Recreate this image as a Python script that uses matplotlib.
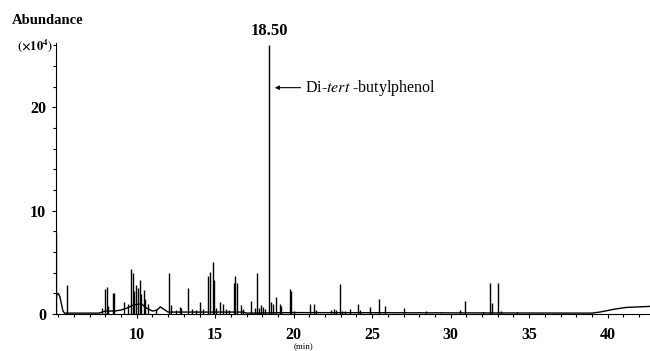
import matplotlib.pyplot as plt
from matplotlib.ticker import MultipleLocator

plt.rcParams["font.family"] = ["Liberation Serif", "DejaVu Serif"]
plt.rcParams["mathtext.fontset"] = "stix"

# baseline of the trace (time in min, abundance x10^4)
base_t = [4.85, 4.9, 5.0, 5.1, 5.2, 5.3, 5.4, 7.6, 8.0, 8.6, 9.0, 9.4, 9.8, 10.3, 10.6, 11.0,
          11.3, 11.5, 11.7, 12.0, 13.0, 16.8, 17.0, 20.0, 39.0, 39.5, 40.0, 40.5, 41.2, 42.7]
base_y = [1.0, 1.9, 2.0, 1.7, 1.0, 0.3, 0.1, 0.1, 0.3, 0.3, 0.4, 0.6, 0.9, 1.0, 0.6, 0.3,
          0.4, 0.7, 0.5, 0.2, 0.2, 0.2, 0.1, 0.15, 0.1, 0.2, 0.35, 0.5, 0.65, 0.75]

# peaks: retention time and height
peak_t = [4.88, 5.56, 7.8, 7.96, 8.09, 8.2, 8.47, 8.55, 9.17, 9.45, 9.66, 9.77, 9.85, 9.95,
          10.05, 10.19, 10.3, 10.45, 10.55, 10.72, 11.25, 12.06, 12.2, 12.5, 12.74, 12.85,
          13.27, 13.5, 13.75, 14.0, 14.2, 14.54, 14.69, 14.84, 14.92, 15.05, 15.29, 15.5,
          15.7, 15.9, 16.2, 16.29, 16.37, 16.67, 16.8, 17.3, 17.52, 17.66, 17.8, 17.9,
          18.05, 18.15, 18.45, 18.55, 18.7, 18.9, 19.1, 19.2, 19.75, 19.82, 20.0, 21.06,
          21.27, 21.4, 22.4, 22.55, 22.7, 22.93, 23.1, 23.3, 23.57, 24.1, 24.2, 24.88,
          25.43, 25.8, 27.02, 28.45, 29.4, 30.57, 30.94, 32.06, 32.48, 32.65, 33.0, 33.2,
          34.2, 35.0]
peak_h = [7.8, 2.8, 0.6, 2.4, 2.6, 0.8, 2.0, 2.0, 1.2, 1.0, 4.4, 4.0, 2.2, 2.8,
          2.5, 3.3, 1.9, 2.3, 1.5, 1.0, 0.5, 4.0, 0.9, 0.4, 0.7, 0.6,
          2.5, 0.5, 0.4, 1.2, 0.5, 3.7, 4.1, 5.0, 3.3, 0.6, 1.2, 1.0,
          0.5, 0.4, 3.0, 3.7, 3.0, 0.9, 0.5, 1.25, 0.6, 4.0, 0.6, 0.9,
          0.7, 0.5, 26.0, 1.2, 1.0, 1.7, 1.0, 0.8, 2.4, 2.2, 0.3, 1.0,
          1.0, 0.4, 0.4, 0.5, 0.4, 2.9, 0.3, 0.3, 0.5, 1.0, 0.4, 0.7,
          1.5, 0.8, 0.6, 0.3, 0.15, 0.4, 1.3, 0.2, 3.0, 1.1, 3.0, 0.3,
          0.2, 0.15]

fig = plt.figure(figsize=(6.5, 3.51), dpi=100)
ax = fig.add_axes([0.086, 0.105, 0.914, 0.772])

ax.plot(base_t, base_y, color="black", lw=1.0)
ax.vlines(peak_t, 0, peak_h, color="black", lw=1.0)

ax.set_xlim(4.85, 42.7)
ax.set_ylim(0, 26.2)
ax.spines["top"].set_visible(False)
ax.spines["right"].set_visible(False)
ax.xaxis.set_major_locator(MultipleLocator(5))
ax.xaxis.set_minor_locator(MultipleLocator(1))
ax.yaxis.set_major_locator(MultipleLocator(10))
ax.yaxis.set_minor_locator(MultipleLocator(2))
ax.set_xticks([10, 15, 20, 25, 30, 35, 40])
ax.tick_params(axis="both", which="major", length=3, width=0.8, labelsize=11.5)
ax.tick_params(axis="both", which="minor", length=2, width=0.8)
ax.tick_params(axis="x", pad=6)
ax.tick_params(axis="y", pad=4)
for lab in ax.get_xticklabels() + ax.get_yticklabels():
    lab.set_fontweight("bold")

ax.text(18.45, 26.6, "18.50", ha="center", va="bottom", fontsize=12, fontweight="bold", clip_on=False)
ax.annotate(r"Di-$\mathit{tert}$ -butylphenol", xy=(18.8, 21.9), xytext=(20.7, 21.9),
            ha="left", va="center", fontsize=11.5,
            arrowprops=dict(arrowstyle="-|>", lw=0.8, color="black", mutation_scale=6, shrinkA=1, shrinkB=0))

fig.text(12 / 650, 1 - 20 / 351, "Abundance", ha="left", va="center", fontsize=10.5, fontweight="bold")
fig.text(53 / 650, 1 - 46 / 351, r"$\mathbf{(\times10^{4})}$", ha="right", va="center", fontsize=9)
fig.text(303 / 650, 1 - 346.5 / 351, "(min)", ha="center", va="center", fontsize=6.5)

plt.savefig("out.png", dpi=100)
